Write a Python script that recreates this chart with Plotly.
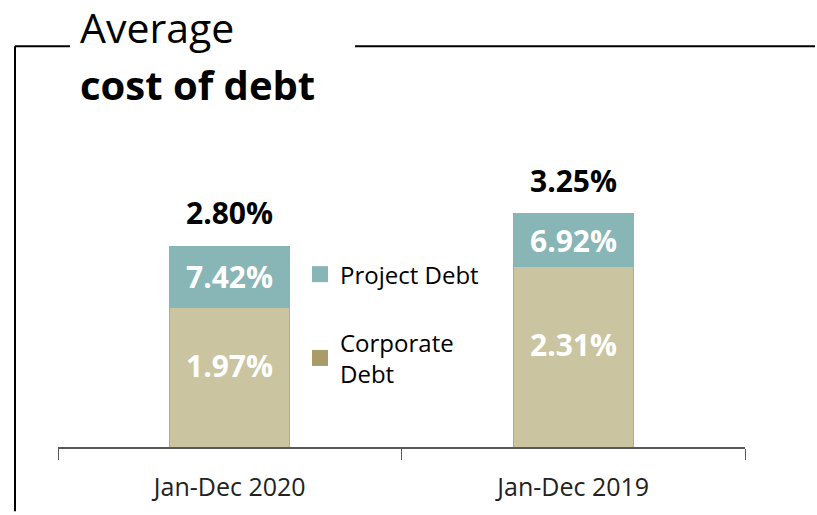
import plotly.graph_objects as go

# Periods on the category axis
periods = ["Jan-Dec 2020", "Jan-Dec 2019"]

# Segment heights (percentage points of the average cost of debt)
corporate_part = [1.94, 2.52]
project_part = [0.86, 0.73]

# Average cost of debt per period (bar totals)
average_cost = [2.80, 3.25]

# Cost of each type of debt (printed inside the segments)
corporate_rate = [1.97, 2.31]
project_rate = [7.42, 6.92]

W, H = 817, 515
L, R, T, B = 58, 72, 160, 65
Y_MAX = 4.0
PW, PH = W - L - R, H - T - B

def px(x):
    return (x - L) / PW

def py(y):
    return (H - B - y) / PH

TEAL = "#88B5B5"
SAND = "#CAC4A1"
SAND_KEY = "#A99C66"
FONT = "Open Sans"

fig = go.Figure()

fig.add_trace(go.Bar(
    x=periods, y=corporate_part, name="Corporate<br>Debt",
    marker=dict(color=SAND, line=dict(color=TEAL, width=1)),
    showlegend=False, hoverinfo="skip",
))
fig.add_trace(go.Bar(
    x=periods, y=project_part, name="Project Debt",
    marker=dict(color=TEAL, line=dict(color=TEAL, width=1)),
    showlegend=False, hoverinfo="skip",
))

# Legend keys (square swatches)
fig.add_trace(go.Scatter(x=[None], y=[None], name="Project Debt", mode="markers",
                         marker=dict(color=TEAL, symbol="square", size=16),
                         legendgroup="p"))
fig.add_trace(go.Scatter(x=[None], y=[None], name="Corporate<br>Debt", mode="markers",
                         marker=dict(color=SAND_KEY, symbol="square", size=16),
                         legendgroup="c"))

annotations = []
for i, p in enumerate(periods):
    c, pr = corporate_part[i], project_part[i]
    annotations.append(dict(
        x=p, y=c / 2, text=f"{corporate_rate[i]:.2f}%", showarrow=False,
        yshift=12, font=dict(family=FONT, size=30, color="white", weight="bold"),
    ))
    annotations.append(dict(
        x=p, y=c + pr / 2, text=f"{project_rate[i]:.2f}%", showarrow=False,
        font=dict(family=FONT, size=30, color="white", weight="bold"),
    ))
    annotations.append(dict(
        x=p, y=average_cost[i], text=f"{average_cost[i]:.2f}%", showarrow=False,
        yanchor="bottom", yshift=11,
        font=dict(family=FONT, size=30, color="black", weight="bold"),
    ))

# Title
annotations.append(dict(
    xref="paper", yref="paper", x=px(78), y=py(26), xanchor="left", yanchor="middle",
    text="Average", showarrow=False, font=dict(family=FONT, size=41, color="black"),
))
annotations.append(dict(
    xref="paper", yref="paper", x=px(78), y=py(84), xanchor="left", yanchor="middle",
    text="<b>cost of debt</b>", showarrow=False,
    font=dict(family=FONT, size=40, color="black"),
))

frame = dict(type="line", xref="paper", yref="paper",
             line=dict(color="black", width=2), layer="above")
shapes = [
    dict(frame, x0=px(15), x1=px(70), y0=py(45), y1=py(45)),
    dict(frame, x0=px(355), x1=px(815), y0=py(45), y1=py(45)),
    dict(frame, x0=px(15), x1=px(15), y0=py(45), y1=py(515)),
]

fig.update_layout(
    width=W, height=H,
    margin=dict(l=L, r=R, t=T, b=B),
    paper_bgcolor="white", plot_bgcolor="white",
    barmode="stack", bargap=0.65,
    font=dict(family=FONT, color="#111111"),
    annotations=annotations, shapes=shapes,
    legend=dict(
        x=px(300), y=py(253), xanchor="left", yanchor="top",
        font=dict(family=FONT, size=24, color="black"),
        tracegroupgap=34, bgcolor="rgba(0,0,0,0)",
    ),
    xaxis=dict(
        showline=True, linecolor="#595959", linewidth=2,
        ticks="outside", tickson="boundaries", ticklen=11, tickcolor="#595959",
        tickfont=dict(family=FONT, size=25, color="#222222"),
        ticklabelstandoff=17,
        showgrid=False, zeroline=False, fixedrange=True,
    ),
    yaxis=dict(range=[0, Y_MAX], visible=False, fixedrange=True),
)

fig.write_html("out.html")
